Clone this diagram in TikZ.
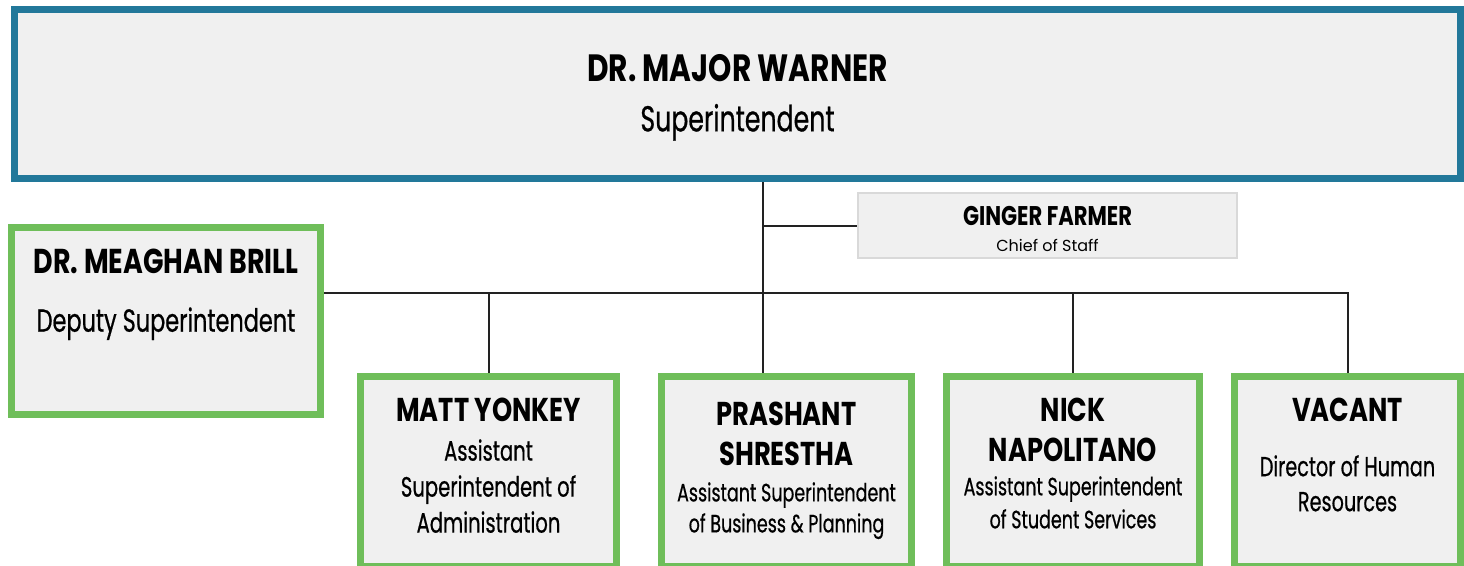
\documentclass[tikz,border=0pt]{standalone}
\usepackage{fontspec}
\setmainfont{Poppins}
\newfontfamily\headfont{Poppins}[FakeStretch=0.78]
\newfontfamily\rolefont{Poppins}[FakeStretch=0.70, FakeBold=0.6]
\usetikzlibrary{positioning}
\definecolor{bossblue}{HTML}{22789A}
\definecolor{leadgreen}{HTML}{6FBE5A}
\definecolor{boxgray}{HTML}{F0F0F0}
\definecolor{staffgray}{HTML}{D9D9D9}
\definecolor{wire}{HTML}{222222}

\begin{document}
\begin{tikzpicture}[x=1pt, y=-1pt,
    bossbox/.style={draw=bossblue, line width=7pt, fill=boxgray, inner sep=0pt},
    leadbox/.style={draw=leadgreen, line width=7pt, fill=boxgray, inner sep=0pt},
    staffbox/.style={draw=staffgray, line width=1.5pt, fill=boxgray, inner sep=0pt},
    nametext/.style={font=\headfont\bfseries\fontsize{#1}{40}\selectfont, inner sep=0pt, align=center},
    nametext/.default=33,
    jobtext/.style args={#1/#2}{font=\rolefont\fontsize{#1}{#2}\selectfont, inner sep=0pt, align=center},
    orgline/.style={draw=wire, line width=2pt}]
    \useasboundingbox (0,0) rectangle (1464,565);
    \clip (0,0) rectangle (1464,565);
    \fill[white] (0,0) rectangle (1464,565);

    % Top
    \node[bossbox, minimum width=1446pt, minimum height=169pt] (warner) at (737.5,94) {};
    \node[nametext=38, below=48pt of warner.north] (warner-n) {DR. MAJOR WARNER};
    \node[jobtext=36/40, below=22pt of warner-n] (warner-j) {Superintendent};

    % Staff
    \node[staffbox, minimum width=379pt, minimum height=65pt] (farmer) at (1047.5,225.5) {};
    \node[nametext=27, below=14pt of farmer.north] (farmer-n) {GINGER FARMER};
    \node[font=\fontsize{16}{20}\selectfont, inner sep=0pt, below=13pt of farmer-n] (farmer-j) {Chief of Staff};

    % Deputy
    \node[leadbox, minimum width=309pt, minimum height=187pt] (brill) at (166,321) {};
    \node[nametext=34.5, below=25pt of brill.north] (brill-n) {DR. MEAGHAN BRILL};
    \node[jobtext=32/38, below=33pt of brill-n] (brill-j) {Deputy Superintendent};

    % Second row
    \node[leadbox, minimum width=256pt, minimum height=190pt] (yonkey) at (488.5,471.5) {};
    \node[leadbox, minimum width=250pt, minimum height=190pt] (shrestha) at (786.5,471.5) {};
    \node[leadbox, minimum width=253pt, minimum height=190pt] (napolitano) at (1073,471.5) {};
    \node[leadbox, minimum width=226pt, minimum height=190pt] (vacant) at (1347.5,471.5) {};

    \node[nametext, below=25pt of yonkey.north] (yonkey-n) {MATT YONKEY};
    \node[jobtext=28/36, below=17pt of yonkey-n] (yonkey-j) {Assistant\\Superintendent of\\Administration};

    \node[nametext, below=29pt of shrestha.north] (shrestha-n) {PRASHANT\\SHRESTHA};
    \node[jobtext=25/31, below=16pt of shrestha-n] (shrestha-j) {Assistant Superintendent\\of Business \& Planning};

    \node[nametext, below=25pt of napolitano.north] (napolitano-n) {NICK\\NAPOLITANO};
    \node[jobtext=25/33, below=14pt of napolitano-n] (napolitano-j) {Assistant Superintendent\\of Student Services};

    \node[nametext, below=25pt of vacant.north] (vacant-n) {VACANT};
    \node[jobtext=27.5/35, below=33pt of vacant-n] (vacant-j) {Director of Human\\Resources};

    % Connectors
    \coordinate (trunk) at ([xshift=25.5pt]warner.south);
    \coordinate (bus) at (0,293);
    \draw[orgline] (trunk) -- (trunk |- shrestha.north);
    \draw[orgline] (trunk |- farmer.west) -- (farmer.west);
    \draw[orgline] (brill.east |- bus) -- (vacant.north |- bus) -- (vacant.north);
    \draw[orgline] (yonkey.north |- bus) -- (yonkey.north);
    \draw[orgline] (napolitano.north |- bus) -- (napolitano.north);
\end{tikzpicture}
\end{document}
